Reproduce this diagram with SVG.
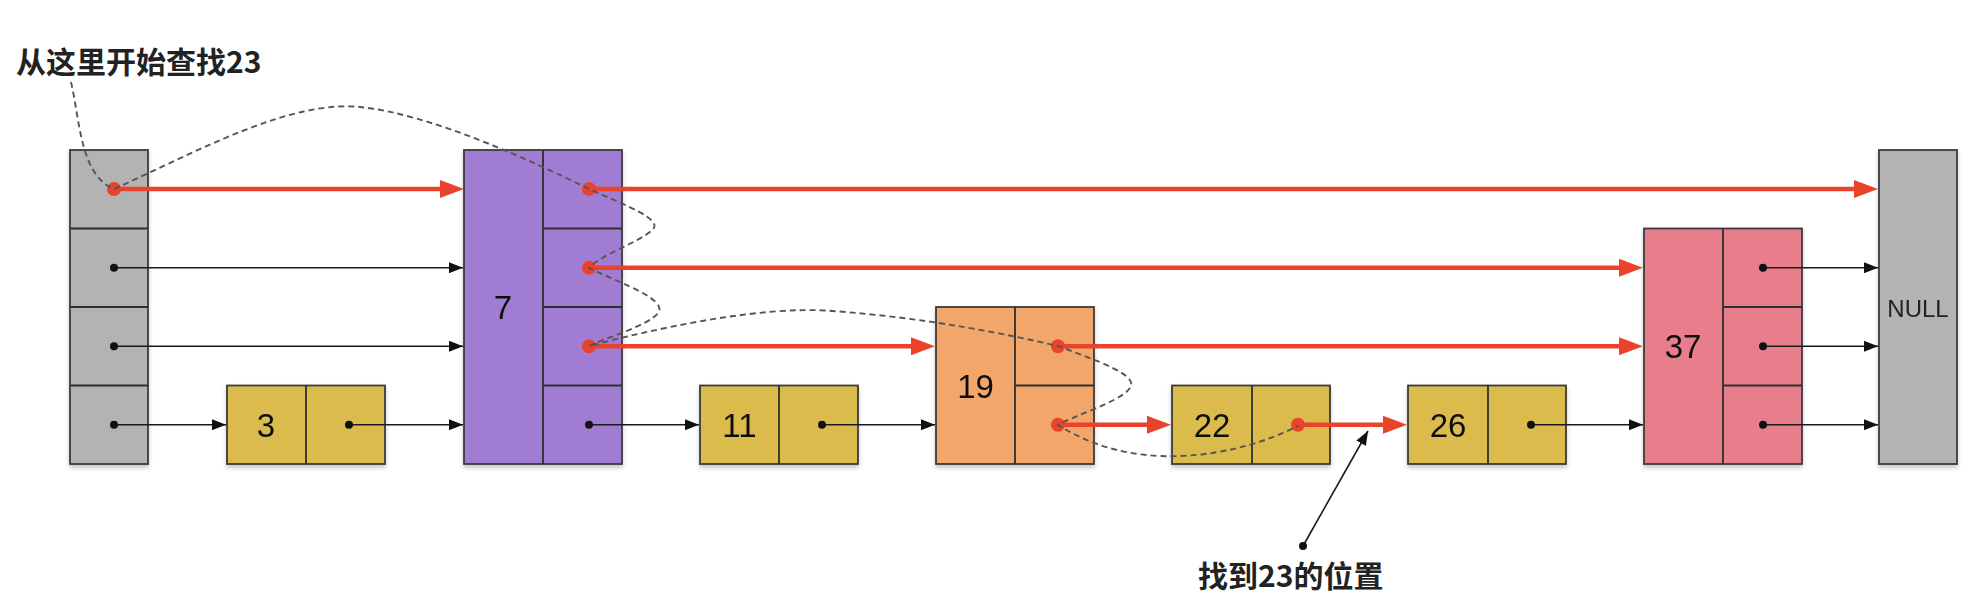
<svg xmlns="http://www.w3.org/2000/svg" width="1988" height="608" viewBox="0 0 1988 608">
<defs>
<style>
.box{stroke:#3a3a3a;stroke-width:1.8}
.div{stroke:#2e2e2e;stroke-width:1.8}
.gray{fill:#b3b3b3}
.yel{fill:#dcbb4d}
.pur{fill:#a07cd3}
.ora{fill:#f2a66b}
.pink{fill:#e87e8c}
.num{font-family:"Liberation Sans",Arial,sans-serif;font-size:33px;fill:#111;text-anchor:middle}
.null{font-family:"Liberation Sans",Arial,sans-serif;font-size:24px;fill:#222;text-anchor:middle}
.lbl{font-family:"Noto Sans CJK SC","Noto Sans",sans-serif;font-size:30px;font-weight:bold;fill:#222}
.blk{stroke:#1a1a1a;stroke-width:1.6;fill:none}
.red{stroke:#e9432b;stroke-width:4.5;fill:none}
.dash{stroke:#555;stroke-width:1.9;fill:none;stroke-dasharray:6 4}
.bdot{fill:#111}
.rdot{fill:#e9432b}
</style>
<filter id="sh" x="-10%" y="-10%" width="120%" height="130%">
<feDropShadow dx="0" dy="3" stdDeviation="2" flood-color="#000" flood-opacity="0.22"/>
</filter>
<marker id="ab" markerUnits="userSpaceOnUse" markerWidth="14" markerHeight="11" refX="14" refY="5.5" orient="auto">
<path d="M0,0 L14,5.5 L0,11 z" fill="#111"/>
</marker>
<marker id="ar" markerUnits="userSpaceOnUse" markerWidth="24" markerHeight="18" refX="12" refY="9" orient="auto">
<path d="M0,0 L24,9 L0,18 z" fill="#e9432b"/>
</marker>
</defs>
<rect width="1988" height="608" fill="#fff"/>

<g id="head" filter="url(#sh)">
<rect class="box gray" x="70" y="150" width="78" height="314"/>
<line class="div" x1="70" y1="228.5" x2="148" y2="228.5"/>
<line class="div" x1="70" y1="307" x2="148" y2="307"/>
<line class="div" x1="70" y1="385.5" x2="148" y2="385.5"/>
</g>

<g id="node3" filter="url(#sh)">
<rect class="box yel" x="227" y="385.5" width="158" height="78.5"/>
<line class="div" x1="306" y1="385.5" x2="306" y2="464"/>
<text class="num" x="266" y="437">3</text>
</g>

<g id="node7" filter="url(#sh)">
<rect class="box pur" x="464" y="150" width="158" height="314"/>
<line class="div" x1="543" y1="150" x2="543" y2="464"/>
<line class="div" x1="543" y1="228.5" x2="622" y2="228.5"/>
<line class="div" x1="543" y1="307" x2="622" y2="307"/>
<line class="div" x1="543" y1="385.5" x2="622" y2="385.5"/>
<text class="num" x="503" y="319">7</text>
</g>

<g id="node11" filter="url(#sh)">
<rect class="box yel" x="700" y="385.5" width="158" height="78.5"/>
<line class="div" x1="779" y1="385.5" x2="779" y2="464"/>
<text class="num" x="739.5" y="437">11</text>
</g>

<g id="node19" filter="url(#sh)">
<rect class="box ora" x="936" y="307" width="158" height="157"/>
<line class="div" x1="1015" y1="307" x2="1015" y2="464"/>
<line class="div" x1="1015" y1="385.5" x2="1094" y2="385.5"/>
<text class="num" x="975.5" y="398">19</text>
</g>

<g id="node22" filter="url(#sh)">
<rect class="box yel" x="1172" y="385.5" width="158" height="78.5"/>
<line class="div" x1="1252" y1="385.5" x2="1252" y2="464"/>
<text class="num" x="1212" y="437">22</text>
</g>

<g id="node26" filter="url(#sh)">
<rect class="box yel" x="1408" y="385.5" width="158" height="78.5"/>
<line class="div" x1="1488" y1="385.5" x2="1488" y2="464"/>
<text class="num" x="1448" y="437">26</text>
</g>

<g id="node37" filter="url(#sh)">
<rect class="box pink" x="1644" y="228.5" width="158" height="235.5"/>
<line class="div" x1="1723" y1="228.5" x2="1723" y2="464"/>
<line class="div" x1="1723" y1="307" x2="1802" y2="307"/>
<line class="div" x1="1723" y1="385.5" x2="1802" y2="385.5"/>
<text class="num" x="1683" y="358">37</text>
</g>

<g id="null" filter="url(#sh)">
<rect class="box gray" x="1879" y="150" width="78" height="314"/>
<text class="null" x="1918" y="316.5">NULL</text>
</g>

<g id="connectors">
<line class="blk" x1="114" y1="267.75" x2="463" y2="267.75" marker-end="url(#ab)"/>
<line class="blk" x1="114" y1="346.25" x2="463" y2="346.25" marker-end="url(#ab)"/>
<line class="blk" x1="114" y1="424.75" x2="226" y2="424.75" marker-end="url(#ab)"/>
<line class="blk" x1="349" y1="424.75" x2="463" y2="424.75" marker-end="url(#ab)"/>
<line class="blk" x1="589" y1="424.75" x2="699" y2="424.75" marker-end="url(#ab)"/>
<line class="blk" x1="822" y1="424.75" x2="935" y2="424.75" marker-end="url(#ab)"/>
<line class="blk" x1="1531" y1="424.75" x2="1643" y2="424.75" marker-end="url(#ab)"/>
<line class="blk" x1="1763" y1="267.75" x2="1878" y2="267.75" marker-end="url(#ab)"/>
<line class="blk" x1="1763" y1="346.25" x2="1878" y2="346.25" marker-end="url(#ab)"/>
<line class="blk" x1="1763" y1="424.75" x2="1878" y2="424.75" marker-end="url(#ab)"/>
<circle class="bdot" cx="114" cy="267.75" r="4"/>
<circle class="bdot" cx="114" cy="346.25" r="4"/>
<circle class="bdot" cx="114" cy="424.75" r="4"/>
<circle class="bdot" cx="349" cy="424.75" r="4"/>
<circle class="bdot" cx="589" cy="424.75" r="4"/>
<circle class="bdot" cx="822" cy="424.75" r="4"/>
<circle class="bdot" cx="1531" cy="424.75" r="4"/>
<circle class="bdot" cx="1763" cy="267.75" r="4"/>
<circle class="bdot" cx="1763" cy="346.25" r="4"/>
<circle class="bdot" cx="1763" cy="424.75" r="4"/>
<line class="red" x1="114" y1="189" x2="452" y2="189" marker-end="url(#ar)"/>
<line class="red" x1="589" y1="189" x2="1866" y2="189" marker-end="url(#ar)"/>
<line class="red" x1="589" y1="267.75" x2="1631" y2="267.75" marker-end="url(#ar)"/>
<line class="red" x1="589" y1="346.25" x2="923" y2="346.25" marker-end="url(#ar)"/>
<line class="red" x1="1058" y1="346.25" x2="1631" y2="346.25" marker-end="url(#ar)"/>
<line class="red" x1="1058" y1="424.75" x2="1159" y2="424.75" marker-end="url(#ar)"/>
<line class="red" x1="1298" y1="424.75" x2="1395" y2="424.75" marker-end="url(#ar)"/>
<circle class="rdot" cx="114" cy="189" r="7"/>
<circle class="rdot" cx="589" cy="189" r="7"/>
<circle class="rdot" cx="589" cy="267.75" r="7"/>
<circle class="rdot" cx="589" cy="346.25" r="7"/>
<circle class="rdot" cx="1058" cy="346.25" r="7"/>
<circle class="rdot" cx="1058" cy="424.75" r="7"/>
<circle class="rdot" cx="1298" cy="424.75" r="7"/>
<path class="dash" d="M71,82 C80,120 80,175 114,189 C200,150 290,100 360,107 S530,160 589,189 C625,205 665,220 652,230 C640,242 600,255 589,268 C625,285 668,300 658,313 C650,325 600,340 589,346 C650,330 760,305 832,311 C930,318 1010,335 1058,346 C1095,360 1140,375 1130,388 C1120,402 1075,415 1058,425 C1090,445 1130,458 1180,456 C1230,454 1270,440 1298,426"/>
<line class="blk" x1="1303" y1="546" x2="1368" y2="431" marker-end="url(#ab)"/>
<circle class="bdot" cx="1303" cy="546" r="4"/>
</g>

<g id="labels">
<text class="lbl" x="16" y="73">从这里开始查找23</text>
<text class="lbl" x="1198" y="587">找到23的位置</text>
</g>
</svg>
